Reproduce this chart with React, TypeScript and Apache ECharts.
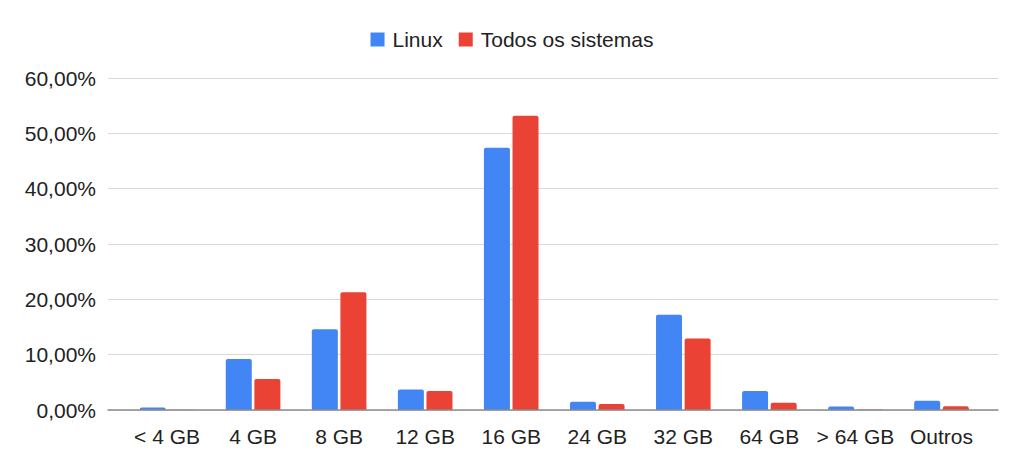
import React, { useEffect, useRef } from "react";
import * as echarts from "echarts";

const categories = ["< 4 GB", "4 GB", "8 GB", "12 GB", "16 GB", "24 GB", "32 GB", "64 GB", "> 64 GB", "Outros"];
const linux = [0.45, 9.2, 14.6, 3.7, 47.4, 1.5, 17.2, 3.45, 0.65, 1.65];
const todos = [0.05, 5.6, 21.3, 3.45, 53.2, 1.1, 12.9, 1.3, 0.1, 0.7];
const yTicks = { min: 0, max: 60, step: 10 };

const FONT = "'Liberation Sans', Arial, sans-serif";

export default function App() {
  const ref = useRef<HTMLDivElement>(null);
  useEffect(() => {
    if (!ref.current) return;
    const chart = echarts.init(ref.current, undefined, { renderer: "svg" });
    chart.setOption({
      animation: false,
      textStyle: { fontFamily: FONT },
      legend: {
        top: 24,
        left: "center",
        itemWidth: 14,
        itemHeight: 14,
        itemGap: 16,
        icon: "rect",
        textStyle: { fontSize: 21, color: "#222", fontFamily: FONT, padding: [0, 0, 0, 3] },
        data: ["Linux", "Todos os sistemas"],
      },
      grid: [
        { left: 108, right: 26, top: 78, bottom: 61, containLabel: false },
        { left: 124, right: 39.5, top: 78, bottom: 61, containLabel: false },
      ],
      xAxis: [
        {
          type: "category",
          gridIndex: 0,
          data: [""],
          axisLine: { show: true, lineStyle: { color: "#8c8c8c", width: 1.5 } },
          axisTick: { show: false },
          axisLabel: { show: false },
          z: 5,
        },
        {
          type: "category",
          gridIndex: 1,
          data: categories,
          axisLine: { show: false },
          axisTick: { show: false },
          axisLabel: { fontSize: 21, color: "#222", margin: 16, fontFamily: FONT, interval: 0 },
        },
      ],
      yAxis: [
        {
          type: "value",
          gridIndex: 0,
          min: yTicks.min,
          max: yTicks.max,
          interval: yTicks.step,
          axisLine: { show: false },
          axisTick: { show: false },
          splitLine: { lineStyle: { color: "#d9d9d9", width: 1 } },
          axisLabel: {
            fontSize: 21,
            color: "#222",
            margin: 12,
            fontFamily: FONT,
            formatter: (v: number) => v.toFixed(2).replace(".", ",") + "%",
          },
        },
        {
          type: "value",
          gridIndex: 1,
          min: yTicks.min,
          max: yTicks.max,
          interval: yTicks.step,
          show: false,
          splitLine: { show: false },
        },
      ],
      series: [
        {
          name: "Linux",
          type: "bar",
          xAxisIndex: 1,
          yAxisIndex: 1,
          data: linux,
          barWidth: 26,
          barGap: "10%",
          itemStyle: { color: "#4285F4", borderRadius: [2, 2, 0, 0] },
        },
        {
          name: "Todos os sistemas",
          type: "bar",
          xAxisIndex: 1,
          yAxisIndex: 1,
          data: todos,
          barWidth: 26,
          barGap: "10%",
          itemStyle: { color: "#EA4335", borderRadius: [2, 2, 0, 0] },
        },
      ],
    });
    return () => chart.dispose();
  }, []);
  return (
    <div
      ref={ref}
      style={{ position: "fixed", left: 0, top: 0, width: 1024, height: 471, background: "#fff" }}
    />
  );
}
